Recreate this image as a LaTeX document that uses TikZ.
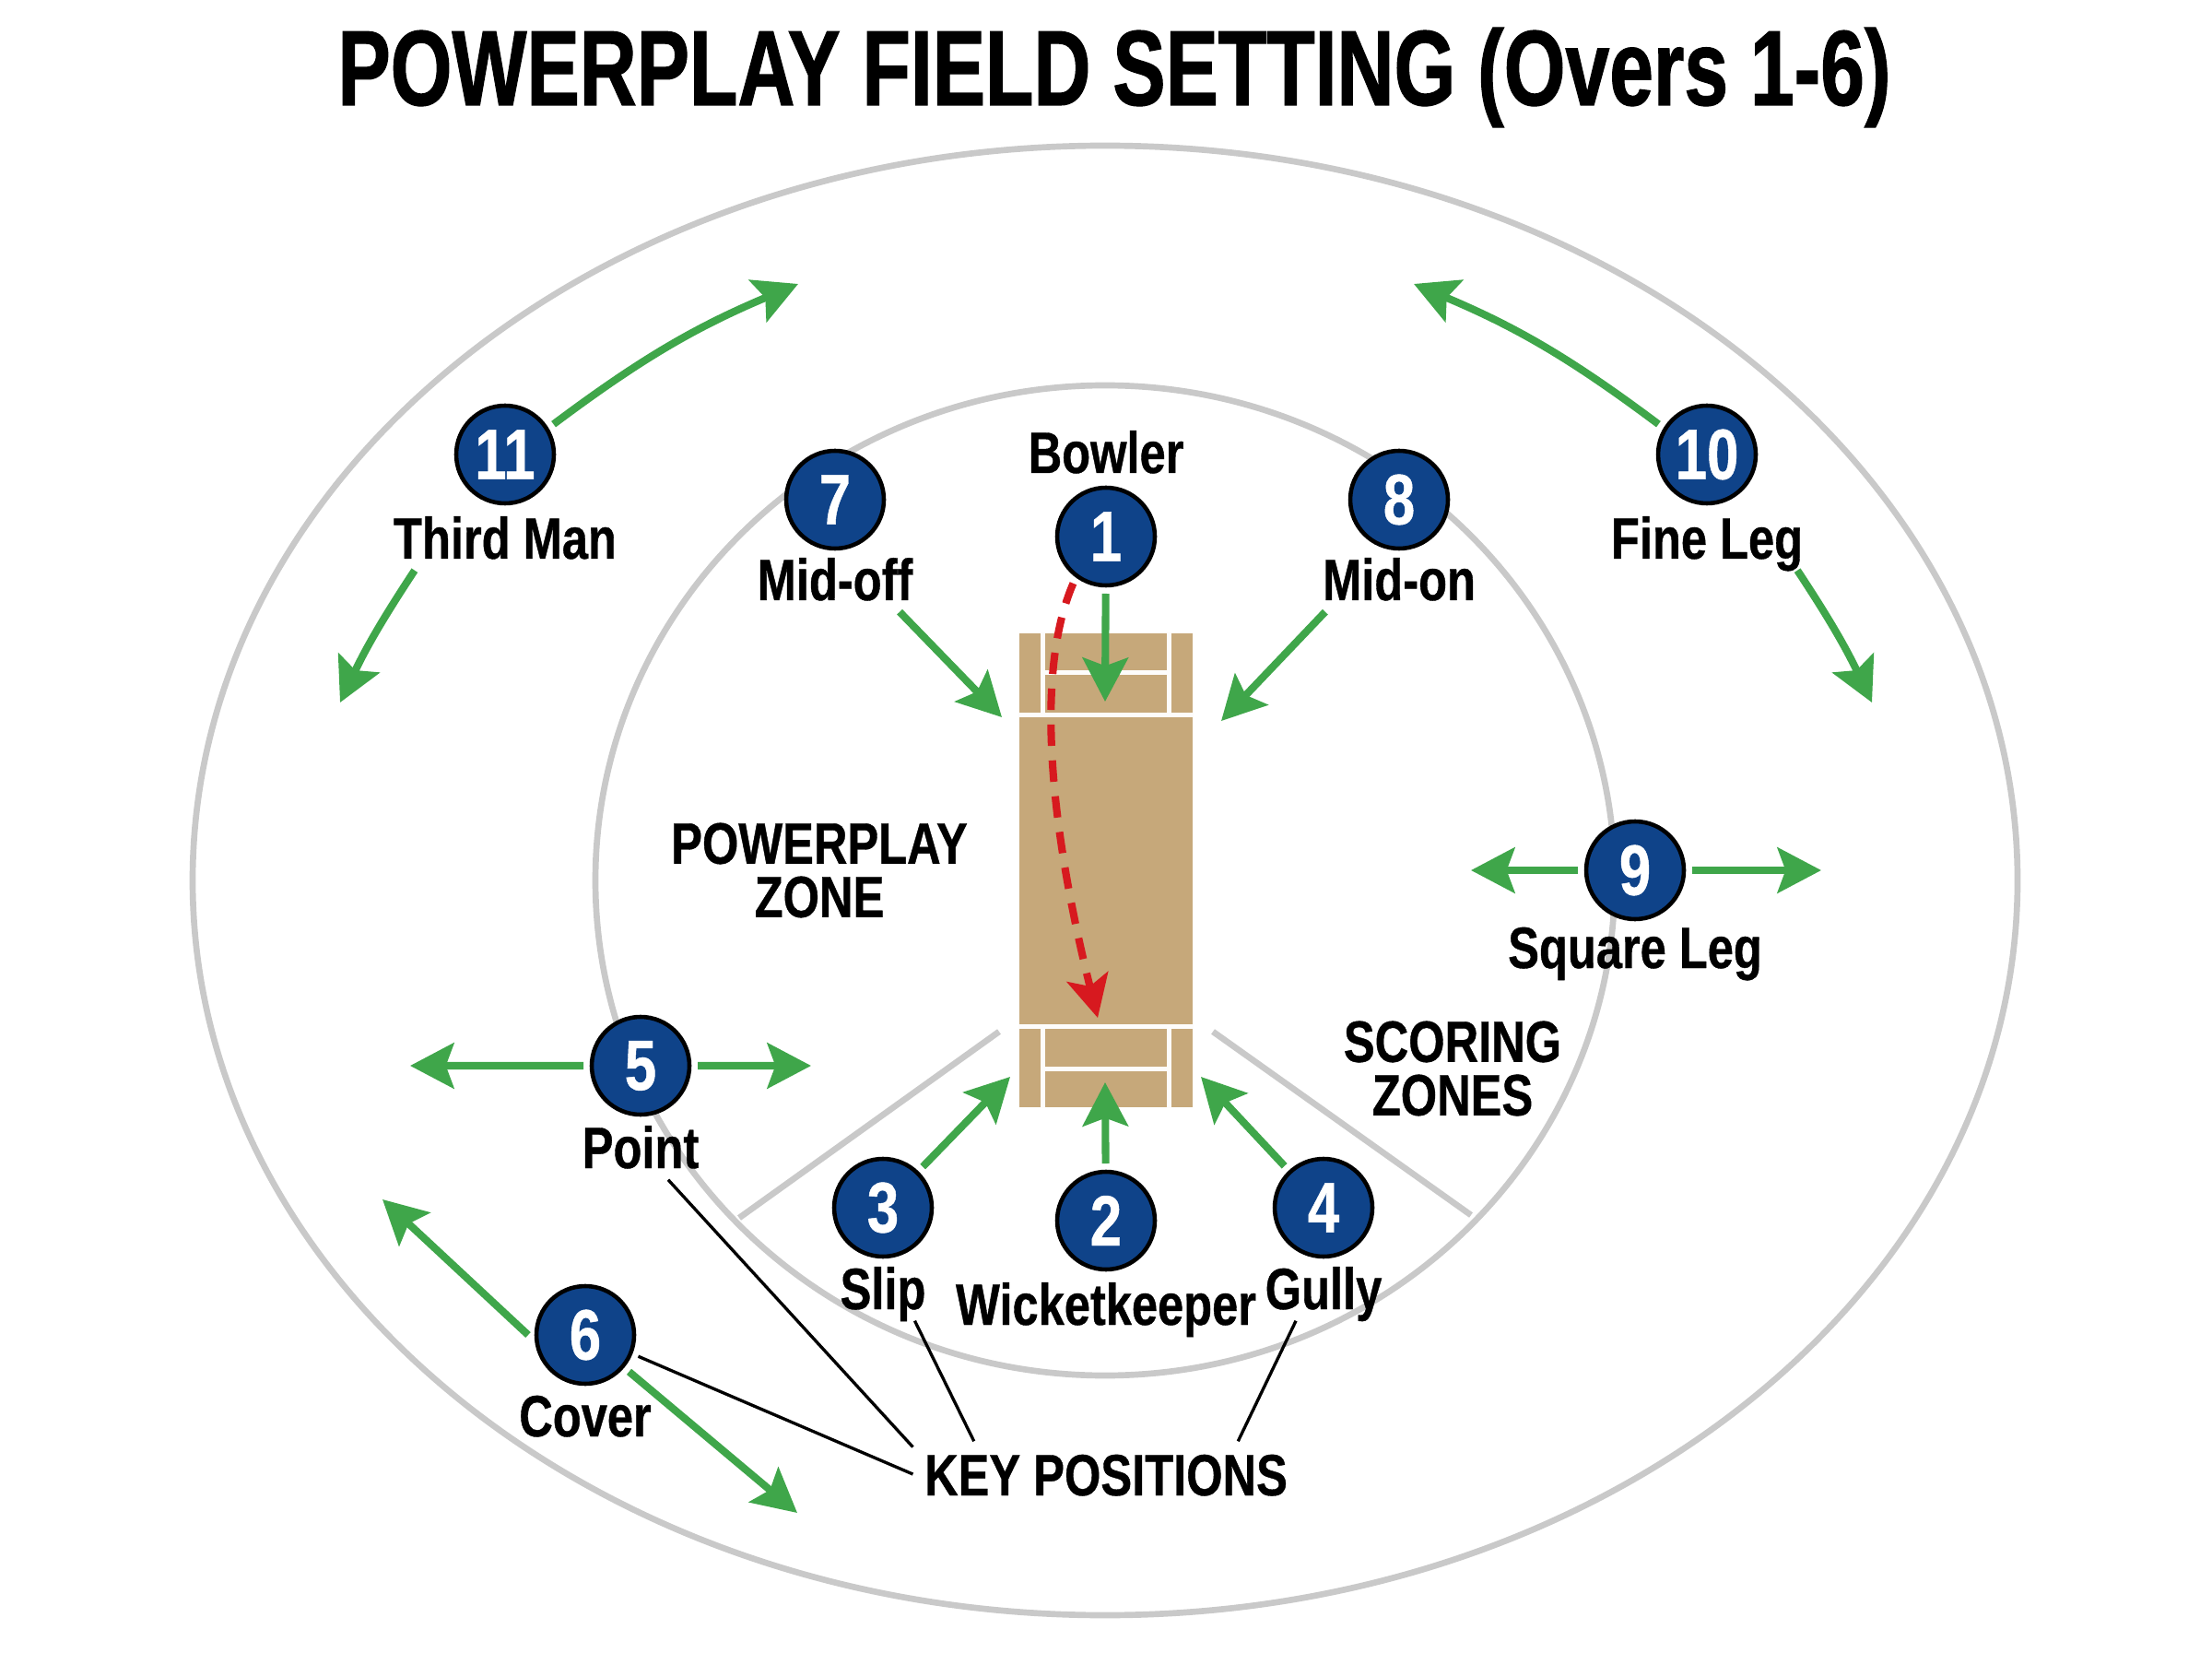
\documentclass[tikz,border=0pt]{standalone}
\usepackage{fontspec}
\setmainfont[FakeStretch=0.8,BoldFeatures={FakeBold=0.6}]{Liberation Sans}
\newfontfamily\titlefamily[FakeStretch=0.74,BoldFeatures={FakeBold=1}]{Liberation Sans}
\usetikzlibrary{positioning,arrows.meta}
\definecolor{fieldblue}{HTML}{0F4389}
\definecolor{fieldgreen}{HTML}{3FA64A}
\definecolor{fieldgrey}{HTML}{C9C9C9}
\definecolor{pitchtan}{HTML}{C6A87A}
\definecolor{ballred}{HTML}{D7191F}
\newcommand{\labfont}{\bfseries\fontsize{18}{16.5}\selectfont}
\newcommand{\numfont}{\bfseries\fontsize{22}{24}\selectfont}

\begin{document}
\begin{tikzpicture}[on grid,
    boundary/.style={draw=fieldgrey,line width=1.9pt},
    fielder/.style={circle,draw=black,line width=1.3pt,fill=fieldblue,text=white,minimum size=1.06cm,inner sep=0pt,outer sep=0.09cm,font=\numfont},
    poslabel/.style={font=\labfont,text height=0.46cm,text depth=0pt,inner sep=0.12cm},
    zonelabel/.style={font=\labfont,align=center},
    runarrow/.style={-{Stealth[length=13.5pt,width=14pt,inset=2.5pt]},color=fieldgreen,line width=2.3pt},
    pointer/.style={draw=black,line width=0.95pt},
    crease/.style={draw=white!97!pitchtan,line width=1.4pt},
    ballpath/.style={-{Stealth[length=13pt,width=13pt,inset=3pt]},color=ballred,line width=2.3pt,dash pattern=on 6.6pt off 4.5pt}]
    \useasboundingbox (0,0) rectangle (24,17.92);
    \node[font=\titlefamily\bfseries\fontsize{33}{35}\selectfont] (title) at (12.09,17.08) {POWERPLAY FIELD SETTING (Overs 1-6)};

    % boundary and circle
    \coordinate (fieldcentre) at (11.99,8.37);
    \draw[boundary] (fieldcentre) ellipse (9.90 and 7.97);
    \draw[boundary] (fieldcentre) ellipse (5.53 and 5.37);
    \coordinate (zoneleftin) at (10.84,6.73);
    \coordinate (zoneleftout) at (8.02,4.71);
    \coordinate (zonerightin) at (13.16,6.73);
    \coordinate (zonerightout) at (15.96,4.74);
    \draw[boundary] (zoneleftin) -- (zoneleftout);
    \draw[boundary] (zonerightin) -- (zonerightout);

    % pitch
    \node[fill=pitchtan,minimum width=1.88cm,minimum height=5.14cm,inner sep=0pt] (pitch) at (12,8.48) {};
    \draw[crease]
        ([yshift=-0.89cm]pitch.north west) -- ([yshift=-0.89cm]pitch.north east)
        ([xshift=0.26cm]pitch.north west) -- ([xshift=0.26cm,yshift=-0.89cm]pitch.north west)
        ([xshift=-0.26cm]pitch.north east) -- ([xshift=-0.26cm,yshift=-0.89cm]pitch.north east)
        ([xshift=0.26cm,yshift=-0.43cm]pitch.north west) -- ([xshift=-0.26cm,yshift=-0.43cm]pitch.north east)
        ([yshift=0.88cm]pitch.south west) -- ([yshift=0.88cm]pitch.south east)
        ([xshift=0.26cm]pitch.south west) -- ([xshift=0.26cm,yshift=0.88cm]pitch.south west)
        ([xshift=-0.26cm]pitch.south east) -- ([xshift=-0.26cm,yshift=0.88cm]pitch.south east)
        ([xshift=0.26cm,yshift=0.42cm]pitch.south west) -- ([xshift=-0.26cm,yshift=0.42cm]pitch.south east);

    % fielders
    \node[fielder, above=3.62cm of pitch] (bowler) {1};
    \node[fielder, below=3.80cm of pitch] (keeper) {2};
    \node[fielder, below left=3.66cm and 2.42cm of pitch] (slip) {3};
    \node[fielder, below right=3.66cm and 2.36cm of pitch] (gully) {4};
    \node[fielder, below left=2.12cm and 5.05cm of pitch] (point) {5};
    \node[fielder, below left=5.04cm and 5.65cm of pitch] (cover) {6};
    \node[fielder, above left=4.02cm and 2.94cm of pitch] (midoff) {7};
    \node[fielder, above right=4.02cm and 3.18cm of pitch] (midon) {8};
    \node[fielder, right=5.74cm of pitch] (squareleg) {9};
    \node[fielder, above right=4.51cm and 6.52cm of pitch] (fineleg) {10};
    \node[fielder, above left=4.51cm and 6.52cm of pitch] (thirdman) {11};

    % names
    \node[poslabel, above=0.92cm of bowler] (bowlerlab) {Bowler};
    \node[poslabel, below=0.90cm of keeper] (keeperlab) {Wicketkeeper};
    \node[poslabel, below=0.87cm of slip] (sliplab) {Slip};
    \node[poslabel, below=0.87cm of gully] (gullylab) {Gully};
    \node[poslabel, below=0.88cm of point] (pointlab) {Point};
    \node[poslabel, below=0.87cm of cover] (coverlab) {Cover};
    \node[poslabel, below=0.86cm of midoff] (midofflab) {Mid-off};
    \node[poslabel, below=0.86cm of midon] (midonlab) {Mid-on};
    \node[poslabel, below=0.83cm of squareleg] (squareleglab) {Square Leg};
    \node[poslabel, below=0.90cm of fineleg] (finelegab) {Fine Leg};
    \node[poslabel, below=0.90cm of thirdman] (thirdmanlab) {Third Man};
    \node[zonelabel, left=3.11cm of pitch] (ppzone) {POWERPLAY\\ZONE};
    \node[zonelabel, below right=2.15cm and 3.76cm of pitch] (scoring) {SCORING\\ZONES};
    \node[poslabel, below=6.55cm of pitch] (keypos) {KEY POSITIONS};

    % arrow ends
    \coordinate (tipbowler) at (11.99,10.31);
    \coordinate (tipmidoff) at (10.87,10.14);
    \coordinate (tipmidon) at (13.25,10.10);
    \coordinate (tipkeeper) at (11.99,6.18);
    \coordinate (tipslip) at (10.96,6.24);
    \coordinate (tipgully) at (13.03,6.24);
    \coordinate (pointleft) at (4.45,6.36);
    \coordinate (pointright) at (8.80,6.36);
    \coordinate (legleft) at (15.96,8.48);
    \coordinate (legright) at (19.76,8.48);
    \coordinate (coverup) at (4.15,4.91);
    \coordinate (coverdown) at (8.65,1.51);
    \coordinate (fineup) at (15.34,14.84);
    \coordinate (finedown) at (20.31,10.30);
    \coordinate (thirdup) at (8.66,14.84);
    \coordinate (thirddown) at (3.69,10.30);
    \coordinate (ballend) at (11.91,6.88);

    \path[runarrow]
        (bowler) edge (tipbowler)
        (midofflab.-27) edge (tipmidoff)
        (midonlab.-156) edge (tipmidon)
        (keeper) edge (tipkeeper)
        (slip) edge (tipslip)
        (gully) edge (tipgully)
        (point) edge (pointleft)
        (point) edge (pointright)
        (squareleg) edge (legleft)
        (squareleg) edge (legright)
        (cover.180) edge (coverup)
        (cover.-40) edge (coverdown)
        (fineleg.148) edge[bend right=7] (fineup)
        (finelegab.-20) edge[bend left=4] (finedown)
        (thirdman.32) edge[bend left=7] (thirdup)
        (thirdmanlab.-160) edge[bend right=4] (thirddown);
    \draw[ballpath] (bowler.235) .. controls (11.22,10.62) and (11.40,8.92) .. (ballend);

    \path[pointer]
        (keypos.172) edge (pointlab.-50)
        (keypos.180) edge (cover.-22)
        (keypos.166) edge (sliplab.-46)
        (keypos.14) edge (gullylab.-130);
\end{tikzpicture}
\end{document}
